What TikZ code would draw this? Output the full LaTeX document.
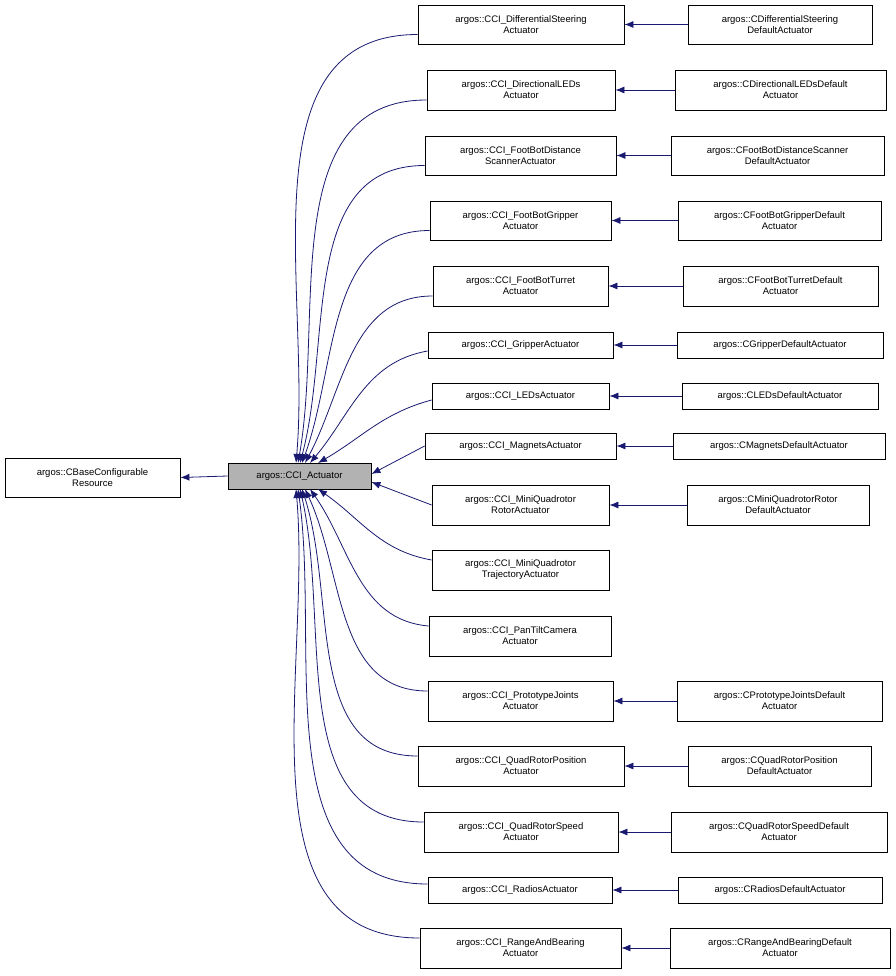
\documentclass[tikz,border=0pt]{standalone}
\usepackage{fontspec}
\setmainfont{Liberation Sans}
\begin{document}
\begin{tikzpicture}[x=1pt,y=-1pt,
  box/.style={draw=black,line width=0.8pt,align=center,inner sep=0pt,font=\fontsize{9.5}{11}\selectfont},
  edge/.style={draw=edgecol,line width=0.8pt,-{Latex[length=9pt,width=7pt]}}]
\definecolor{edgecol}{HTML}{191970}
\usetikzlibrary{arrows.meta}
\useasboundingbox (0,0) rectangle (895,976);
\newcommand{\bx}[6]{\node[box,minimum width={#4-#2},minimum height={#5-#3}] (#1) at ({(#2+#4)/2},{(#3+#5)/2}) {#6};}
\bx{base}{5}{458}{180}{497}{argos::CBaseConfigurable\\Resource}
\node[box,fill=gray!60,minimum width=143,minimum height=26] (act) at (299.5,476) {argos::CCI\_Actuator};
\bx{m1}{418}{5}{624}{44}{argos::CCI\_DifferentialSteering\\Actuator}
\bx{m2}{427}{70}{615}{110}{argos::CCI\_DirectionalLEDs\\Actuator}
\bx{m3}{425}{136}{616}{175}{argos::CCI\_FootBotDistance\\ScannerActuator}
\bx{m4}{430}{201}{611}{240}{argos::CCI\_FootBotGripper\\Actuator}
\bx{m5}{433}{266}{608}{306}{argos::CCI\_FootBotTurret\\Actuator}
\bx{m6}{428}{332}{613}{358}{argos::CCI\_GripperActuator}
\bx{m7}{432}{383}{609}{409}{argos::CCI\_LEDsActuator}
\bx{m8}{425}{433}{616}{459}{argos::CCI\_MagnetsActuator}
\bx{m9}{432}{485}{609}{525}{argos::CCI\_MiniQuadrotor\\RotorActuator}
\bx{m10}{432}{550}{609}{590}{argos::CCI\_MiniQuadrotor\\TrajectoryActuator}
\bx{m11}{429}{616}{611}{656}{argos::CCI\_PanTiltCamera\\Actuator}
\bx{m12}{428}{681}{613}{721}{argos::CCI\_PrototypeJoints\\Actuator}
\bx{m13}{418}{746}{624}{786}{argos::CCI\_QuadRotorPosition\\Actuator}
\bx{m14}{424}{812}{618}{852}{argos::CCI\_QuadRotorSpeed\\Actuator}
\bx{m15}{428}{877}{612}{903}{argos::CCI\_RadiosActuator}
\bx{m16}{420}{928}{621}{968}{argos::CCI\_RangeAndBearing\\Actuator}
\bx{r1}{688}{5}{872}{44}{argos::CDifferentialSteering\\DefaultActuator}
\bx{r2}{675}{70}{886}{110}{argos::CDirectionalLEDsDefault\\Actuator}
\bx{r3}{671}{136}{884}{175}{argos::CFootBotDistanceScanner\\DefaultActuator}
\bx{r4}{678}{201}{881}{240}{argos::CFootBotGripperDefault\\Actuator}
\bx{r5}{683}{266}{878}{306}{argos::CFootBotTurretDefault\\Actuator}
\bx{r6}{677}{332}{883}{358}{argos::CGripperDefaultActuator}
\bx{r7}{682}{383}{878}{409}{argos::CLEDsDefaultActuator}
\bx{r8}{673}{433}{885}{459}{argos::CMagnetsDefaultActuator}
\bx{r9}{687}{485}{869}{525}{argos::CMiniQuadrotorRotor\\DefaultActuator}
\bx{r12}{677}{681}{882}{721}{argos::CPrototypeJointsDefault\\Actuator}
\bx{r13}{688}{746}{871}{786}{argos::CQuadRotorPosition\\DefaultActuator}
\bx{r14}{671}{812}{887}{852}{argos::CQuadRotorSpeedDefault\\Actuator}
\bx{r15}{678}{877}{882}{903}{argos::CRadiosDefaultActuator}
\bx{r16}{670}{928}{890}{968}{argos::CRangeAndBearingDefault\\Actuator}
\draw[edge] (act.west) -- (base.east);
\foreach \i in {1,2,3,4,5,6,7,8,9,12,13,14,15,16} {\draw[edge] (r\i.west) -- (m\i.east);}
\draw[edge] ([yshift=-10]m1.west) to[out=180,in=85] (296,463);
\draw[edge] ([yshift=-10]m2.west) to[out=180,in=80] (298,463);
\draw[edge] ([yshift=-10]m3.west) to[out=180,in=75] (300,463);
\draw[edge] ([yshift=-10]m4.west) to[out=180,in=70] (302,463);
\draw[edge] ([yshift=-10]m5.west) to[out=180,in=62] (305,463);
\draw[edge] ([yshift=-6]m6.west) to[out=190,in=50] (310,463);
\draw[edge] ([yshift=-4]m7.west) to[out=195,in=30] (318,463);
\draw[edge] (m8.west) -- ([yshift=2]act.east);
\draw[edge] (m9.west) -- ([yshift=-6]act.east);
\draw[edge] ([yshift=10]m10.west) to[out=170,in=-35] (318,489);
\draw[edge] ([yshift=10]m11.west) to[out=175,in=-55] (310,489);
\draw[edge] ([yshift=10]m12.west) to[out=180,in=-65] (305,489);
\draw[edge] ([yshift=10]m13.west) to[out=180,in=-72] (302,489);
\draw[edge] ([yshift=10]m14.west) to[out=180,in=-77] (300,489);
\draw[edge] ([yshift=6]m15.west) to[out=180,in=-82] (298,489);
\draw[edge] ([yshift=10]m16.west) to[out=180,in=-85] (296,489);
\end{tikzpicture}
\end{document}
